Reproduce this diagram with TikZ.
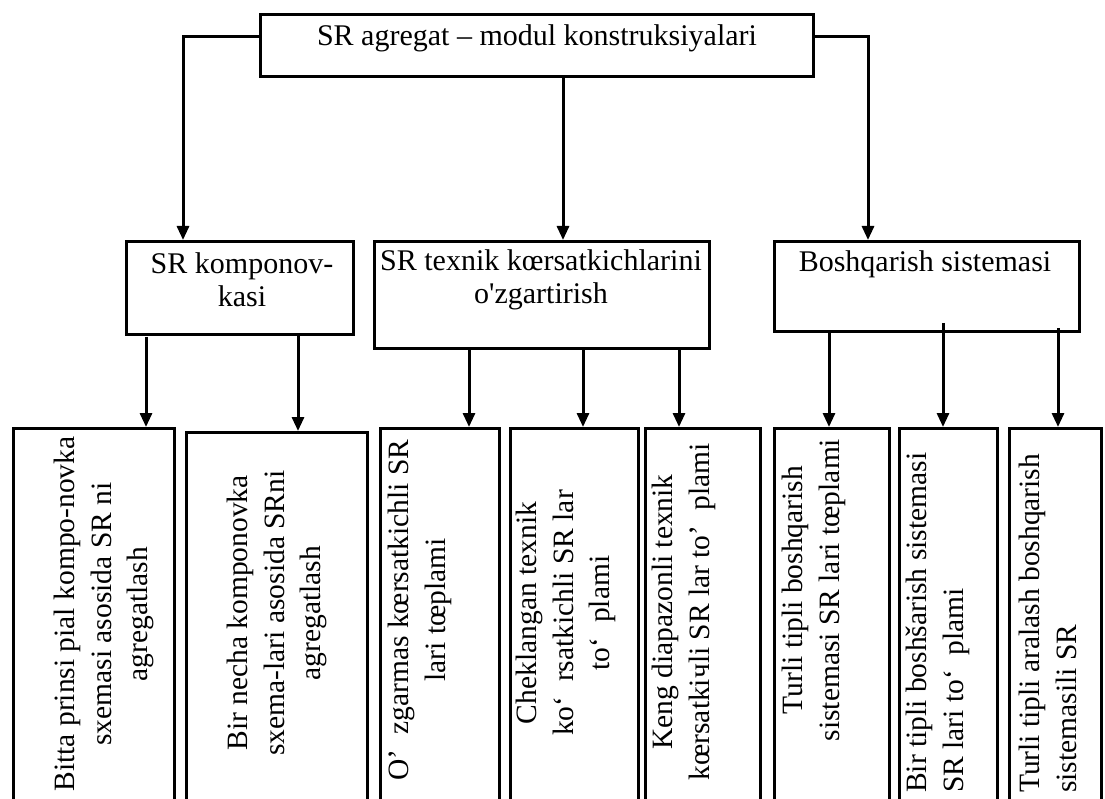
\documentclass[tikz,border=0pt]{standalone}
\usepackage{fontspec}
\setmainfont{Liberation Serif}[Ligatures=TeXOff]
\usetikzlibrary{arrows.meta}
\tikzset{
  box/.style={draw=black, line width=3pt, rectangle, inner sep=0pt, anchor=north west},
  lbl/.style={inner sep=0pt, align=center, font=\fontsize{30}{33}\selectfont},
  vlbl/.style={inner sep=0pt, rotate=90, font=\fontsize{29.5}{36.5}\selectfont},
  conn/.style={line width=3pt, -{Triangle[length=14pt,width=12pt]}},
}
\begin{document}
\begin{tikzpicture}[x=1pt,y=-1pt]
\useasboundingbox (0,0) rectangle (1105,799);
\clip (0,0) rectangle (1105,799);
\fill[white] (0,0) rectangle (1105,799);
% top box
\node[box, minimum width=553, minimum height=62] (top) at (259,13) {};
\node[lbl] (ttop) at (537,38) {SR agregat – modul konstruksiyalari};
% middle boxes
\node[box, minimum width=227, minimum height=93] (m1) at (125,240) {};
\node[lbl] (tm1) at (242,280) {SR komponov-\\kasi};
\node[box, minimum width=335, minimum height=107] (m2) at (373,240) {};
\node[lbl] (tm2) at (541,280) {SR texnik kœrsatkichlarini\\o'zgartirish};
\node[box, minimum width=305, minimum height=90] (m3) at (773,240) {};
\node[lbl] (tm3) at (925,264) {Boshqarish sistemasi};
% bottom boxes
\node[box, minimum width=161, minimum height=380] (bA) at (12,427) {};
\node[box, minimum width=181, minimum height=380] (bB) at (185,431) {};
\node[box, minimum width=119, minimum height=380] (bC) at (379,427) {};
\node[box, minimum width=128, minimum height=380] (bD) at (509,427) {};
\node[box, minimum width=115, minimum height=380] (bE) at (644,427) {};
\node[box, minimum width=115, minimum height=380] (bF) at (773,427) {};
\node[box, minimum width=98, minimum height=380] (bG) at (898,427) {};
\node[box, minimum width=92, minimum height=380] (bH) at (1008,427) {};
\node[vlbl, align=center] (tA) at (104,614) {Bitta prinsi pial kompo-novka\\sxemasi asosida SR ni\\agregatlash};
\node[vlbl, align=center] (tB) at (277,613) {Bir necha komponovka\\sxema-lari asosida SRni\\agregatlash};
\node[vlbl, align=center] (tC) at (420,610) {O’~~zgarmas kœrsatkichli SR\\lari tœplami};
\node[vlbl, align=center] (tD) at (566,613) {Cheklangan texnik\\ko‘~~rsatkichli SR lar\\to‘~~plami};
\node[vlbl, align=center] (tE) at (684,612) {Keng diapazonli texnik\\kœrsatkiчli SR lar to’~~plami};
\node[vlbl, align=center] (tF) at (814,590) {Turli tipli boshqarish\\sistemasi SR lari tœplami};
\node[vlbl, align=left, anchor=west] (tG) at (938,793) {Bir tipli boshšarish sistemasi\\SR lari to‘~~plami};
\node[vlbl, align=left, anchor=west] (tH) at (1048,793) {Turli tipli aralash boshqarish\\sistemasili SR};
% connectors from top box
\coordinate (cl) at (183,37);
\coordinate (cr) at (868,37);
\draw[conn] (top.west |- cl) -- (cl) -- (cl |- m1.north);
\draw[conn] (top.east |- cr) -- (cr) -- (cr |- m3.north);
\draw[conn] (top.south -| 563,0) -- (m2.north -| 563,0);
% connectors from middle boxes
\draw[conn] (146,337) -- (bA.north -| 146,0);
\draw[conn] (m1.south -| 298,0) -- (bB.north -| 298,0);
\draw[conn] (m2.south -| 469,0) -- (bC.north -| 469,0);
\draw[conn] (m2.south -| 583,0) -- (bD.north -| 583,0);
\draw[conn] (m2.south -| 679,0) -- (bE.north -| 679,0);
\draw[conn] (m3.south -| 829,0) -- (bF.north -| 829,0);
\draw[conn] (943,323) -- (bG.north -| 943,0);
\draw[conn] (1058,328) -- (bH.north -| 1058,0);
\end{tikzpicture}
\end{document}
